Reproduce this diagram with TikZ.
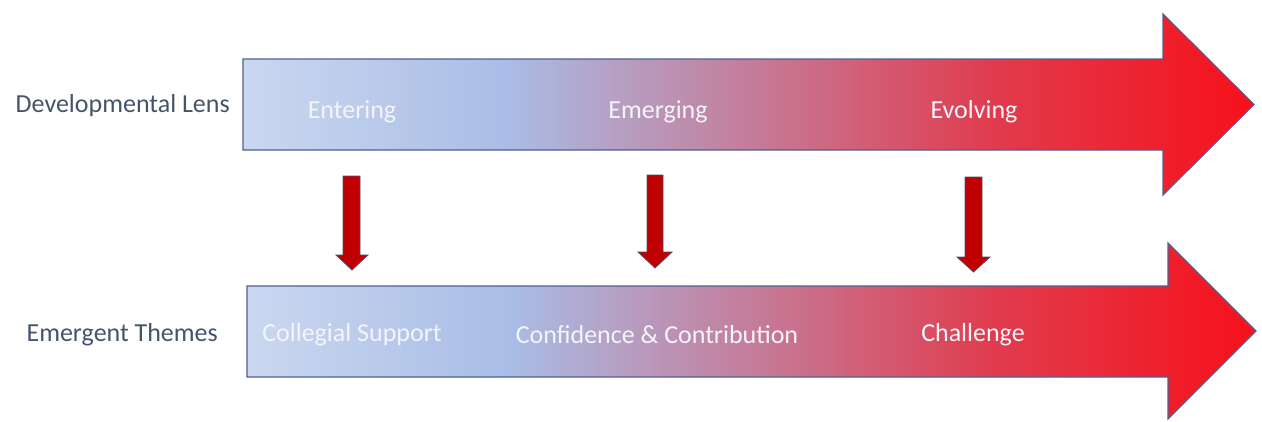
\documentclass[tikz,border=0pt]{standalone}
\usepackage{fontspec}
\setmainfont{Carlito}
\definecolor{blueA}{HTML}{CAD7EF}
\definecolor{blueB}{HTML}{A9BDE6}
\definecolor{redA}{HTML}{E03C4E}
\definecolor{redB}{HTML}{F7101A}
\definecolor{edge}{HTML}{4F6094}
\definecolor{labelgray}{HTML}{44546A}
\definecolor{downred}{HTML}{C00000}
\definecolor{downedge}{HTML}{4A4E72}
\definecolor{stagetext}{HTML}{F4F4FA}
% 25bp..75bp of the shading is mapped onto the path's bounding box
\pgfdeclarehorizontalshading{bluetored}{100bp}{%
  color(0bp)=(blueA); color(25bp)=(blueA); color(38bp)=(blueB);
  color(62bp)=(redA); color(75bp)=(redB); color(100bp)=(redB)}
\tikzset{
  bigarrow/.style={shading=bluetored, draw=edge, line width=1.2pt, line join=miter},
  downarrow/.style={fill=downred, draw=downedge, line width=0.8pt, line join=miter},
  sidelabel/.style={font=\fontsize{26}{30}\selectfont, text=labelgray, inner sep=0pt},
  stage/.style={font=\fontsize{26}{30}\selectfont, text=stagetext, inner sep=0pt}
}
\begin{document}
\begin{tikzpicture}[x=1pt,y=-1pt]
\useasboundingbox (0,0) rectangle (1262,421);
% upper block arrow
\draw[bigarrow] (243,59) -- (1163,59) -- (1163,14) -- (1254,104.5)
  -- (1163,195) -- (1163,150) -- (243,150) -- cycle;
% lower block arrow
\draw[bigarrow] (247,286) -- (1168,286) -- (1168,243) -- (1256,331)
  -- (1168,419) -- (1168,377) -- (247,377) -- cycle;
% connecting down arrows
\draw[downarrow] (343,176) -- (360,176) -- (360,255) -- (368,255) -- (352,270)
  -- (336,255) -- (343,255) -- cycle;
\draw[downarrow] (647,175) -- (663,175) -- (663,252) -- (672,252) -- (655,268)
  -- (638,252) -- (647,252) -- cycle;
\draw[downarrow] (965,177) -- (982,177) -- (982,257) -- (990,257) -- (973.5,272)
  -- (957,257) -- (965,257) -- cycle;
% row labels
\node[sidelabel, anchor=east] (lens) at (230,106) {Developmental Lens};
\node[sidelabel, anchor=east] (themes) at (218,335) {Emergent Themes};
% stages
\node[stage] (entering) at (352,112) {Entering};
\node[stage] (emerging) at (658,112) {Emerging};
\node[stage] (evolving) at (974,112) {Evolving};
\node[stage] (collegial) at (352,335) {Collegial Support};
\node[stage] (confidence) at (657,335) {Confidence \& Contribution};
\node[stage] (challenge) at (973,335) {Challenge};
\end{tikzpicture}
\end{document}
